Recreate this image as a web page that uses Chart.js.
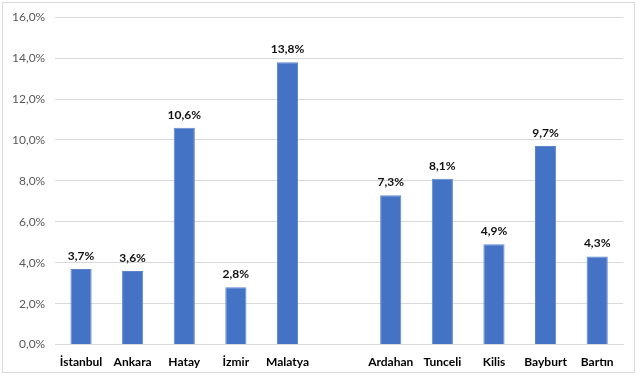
<!DOCTYPE html>
<html>
<head>
<meta charset="utf-8">
<script src="https://cdn.jsdelivr.net/npm/chart.js@4/dist/chart.umd.min.js"></script>
<style>
  html, body { margin: 0; padding: 0; background: #fff; }
  #wrap { position: absolute; left: 0; top: 0; width: 640px; height: 380px; }
  #frame { position: absolute; left: 2px; top: 2px; width: 633px; height: 371px; border: 1px solid #d9d9d9; box-sizing: border-box; pointer-events: none; }
</style>
</head>
<body>
<div id="wrap">
  <canvas id="c" width="640" height="380"></canvas>
  <div id="frame"></div>
</div>
<script>
const categories = ['İstanbul', 'Ankara', 'Hatay', 'İzmir', 'Malatya', '', 'Ardahan', 'Tunceli', 'Kilis', 'Bayburt', 'Bartın'];
const values = [3.7, 3.6, 10.6, 2.8, 13.8, null, 7.3, 8.1, 4.9, 9.7, 4.3];
const yTicks = [0, 2, 4, 6, 8, 10, 12, 14, 16];

const fmt = v => v.toFixed(1).replace('.', ',') + '%';

const valueLabels = {
  id: 'valueLabels',
  afterDatasetsDraw(chart) {
    const ctx = chart.ctx;
    const meta = chart.getDatasetMeta(0);
    ctx.save();
    ctx.font = 'bold 12px Lato, "Open Sans", sans-serif';
    ctx.fillStyle = '#111';
    ctx.textAlign = 'center';
    ctx.textBaseline = 'bottom';
    meta.data.forEach((bar, i) => {
      const v = values[i];
      if (v === null) return;
      ctx.fillText(fmt(v), bar.x, bar.y - 7);
    });
    ctx.restore();
  }
};

new Chart(document.getElementById('c'), {
  type: 'bar',
  data: {
    labels: categories,
    datasets: [{
      data: values,
      backgroundColor: '#4472c4',
      borderColor: '#5b85d0',
      borderWidth: 1,
      categoryPercentage: 1,
      barPercentage: 0.41
    }]
  },
  options: {
    responsive: false,
    animation: false,
    layout: { padding: { left: 2, right: 17, top: 10, bottom: 9 } },
    plugins: { legend: { display: false }, tooltip: { enabled: false } },
    scales: {
      x: {
        grid: { display: false },
        border: { display: true, color: '#d9d9d9' },
        ticks: {
          color: '#000',
          font: { family: 'Lato, "Open Sans", sans-serif', size: 12, weight: 'bold' },
          maxRotation: 0,
          autoSkip: false,
          padding: 2
        }
      },
      y: {
        min: 0,
        max: 16,
        afterBuildTicks(axis) { axis.ticks = yTicks.map(v => ({ value: v })); },
        grid: { color: '#d9d9d9', drawTicks: false },
        border: { display: false },
        ticks: {
          color: '#595959',
          font: { family: 'Lato, "Open Sans", sans-serif', size: 12 },
          padding: 10,
          callback: v => fmt(v)
        }
      }
    }
  },
  plugins: [valueLabels]
});
</script>
</body>
</html>
